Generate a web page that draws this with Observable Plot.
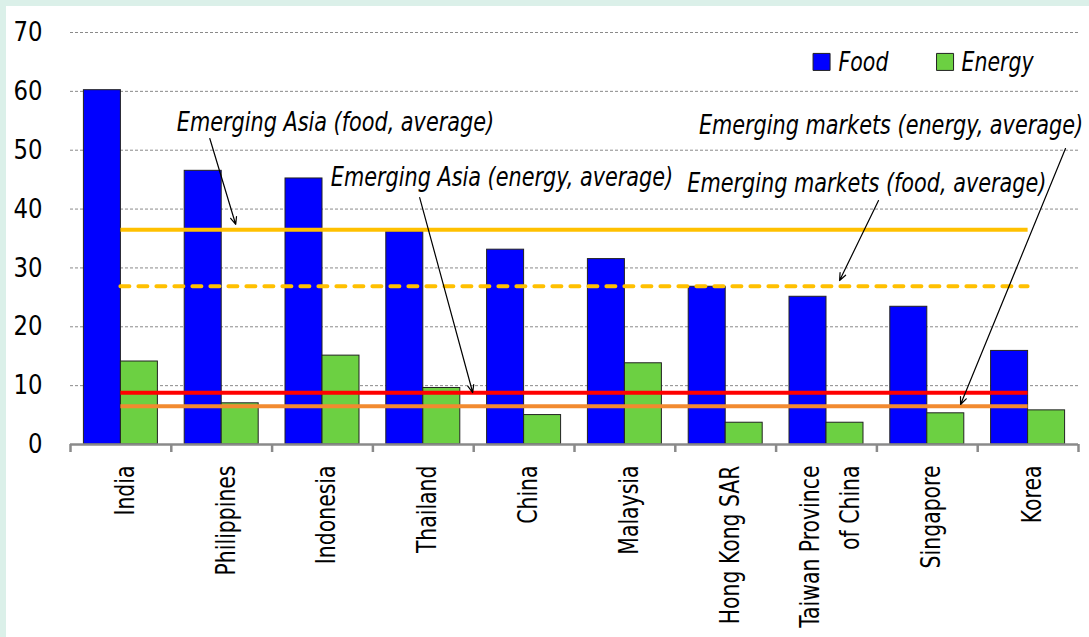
<!DOCTYPE html>
<html>
<head>
<meta charset="utf-8">
<script src="https://cdn.jsdelivr.net/npm/d3@7"></script>
<script src="https://cdn.jsdelivr.net/npm/@observablehq/plot@0.6"></script>
<style>
html, body { margin: 0; padding: 0; background: #dbf0e9; width: 1089px; height: 637px; overflow: hidden; }
#panel { position: absolute; left: 6px; top: 6px; width: 1083px; height: 631px; background: #ffffff; overflow: hidden; }
#panel svg { background: transparent; }
</style>
</head>
<body>
<div id="panel"></div>
<script>
// ---------- data ----------
const countries = ["India", "Philippines", "Indonesia", "Thailand", "China", "Malaysia",
  "Hong Kong SAR", "Taiwan Province\nof China", "Singapore", "Korea"];
const foodValues   = [60.2, 46.5, 45.2, 36.2, 33.1, 31.5, 26.8, 25.1, 23.4, 15.9];
const energyValues = [14.1, 7.0, 15.1, 9.6, 5.0, 13.8, 3.7, 3.7, 5.3, 5.8];
const seriesNames  = ["Food", "Energy"];
const yTicks = [0, 10, 20, 30, 40, 50, 60, 70];

const averageNames  = ["Emerging Asia (food, average)", "Emerging markets (food, average)",
  "Emerging Asia (energy, average)", "Emerging markets (energy, average)"];
const averageValues = [36.5, 26.9, 8.8, 6.5];

// annotation label anchors and arrows (x in category-index units, y in data units)
const labelX  = [1.054, 6.119, 2.582, 6.234];
const labelY  = [54.7, 44.3, 45.36, 54.2];
const arrowX1 = [1.382, 8.016, 3.464, 9.871];
const arrowY1 = [51.99, 41.45, 41.96, 50.29];
const arrowX2 = [1.639, 7.630, 3.990, 8.830];
const arrowY2 = [37.38, 27.86, 8.83, 6.80];

// legend anchors
const legendSwatchX = [7.451, 8.676];
const legendTextX   = [7.62, 8.84];
const legendY = 65.0;

// ---------- styles ----------
const seriesColors = {Food: "#0000ff", Energy: "#6cd042"};
const averageColors = ["#ffc000", "#ffc000", "#ff0000", "#f28a30"];
const averageDash = [null, "9,9", null, null];

// ---------- font selection ----------
const ctx = document.createElement("canvas").getContext("2d");
function measure(str, family, size = 100, style = "normal") { ctx.font = `${style} ${size}px ${family}`; return ctx.measureText(str).width; }
function available(f) {
  const s = "Philippines Emerging 0123456789";
  return measure(s, `"${f}", monospace`) !== measure(s, "monospace") &&
         measure(s, `"${f}", serif`) !== measure(s, "serif");
}
const candidates = ["Liberation Sans Narrow", "Arial Narrow", "DejaVu Sans Condensed", "Roboto Condensed", "Liberation Sans"];
const FONT = candidates.find(available) || "sans-serif";
const FF = `"${FONT}", sans-serif`;

// sizes chosen for glyph height; horizontal compression to match the narrow original face
const labelSize = 27, tickLabelSize = 27, annSize = 27, legendSize = 27;
const labelSqueeze  = Math.min(1, 110 / measure("Philippines", FF, labelSize));
const tickSqueeze   = Math.min(1, 29 / measure("70", FF, tickLabelSize));
const annSqueeze    = Math.min(1, (380 / measure("Emerging markets (energy, average)", FF, annSize, "italic") +
                                   321 / measure("Emerging Asia (food, average)", FF, annSize, "italic")) / 2);
const legendSqueeze = Math.min(1, 72 / measure("Energy", FF, legendSize, "italic"));

// ---------- build tables ----------
const groupWidth = 0.734;
const bars = [];
countries.forEach((c, i) => {
  [foodValues[i], energyValues[i]].forEach((v, k) => {
    bars.push({country: c, index: i, series: seriesNames[k], k, value: v});
  });
});
const averages = averageNames.map((name, i) => ({name, value: averageValues[i], color: averageColors[i], dash: averageDash[i]}));
const annotations = averageNames.map((name, i) => ({
  name, lx: labelX[i], ly: labelY[i], x1: arrowX1[i], y1: arrowY1[i], x2: arrowX2[i], y2: arrowY2[i]
}));
const legend = seriesNames.map((s, i) => ({series: s, sx: legendSwatchX[i], tx: legendTextX[i]}));

const lineMarks = averages.map(a =>
  Plot.ruleY([a], {y: "value", x1: 0.5, x2: countries.length - 0.5, stroke: a.color, strokeWidth: 4,
    strokeDasharray: a.dash || undefined, strokeLinecap: a.dash ? "round" : "butt"})
);

const chart = Plot.plot({
  width: 1083,
  height: 631,
  marginLeft: 64,
  marginRight: 11,
  marginTop: 26,
  marginBottom: 193,
  style: {fontFamily: FF, color: "#000", background: "transparent"},
  x: {type: "linear", domain: [0, countries.length]},
  y: {domain: [0, 70]},
  marks: [
    Plot.gridY(yTicks.filter(d => d > 0), {stroke: "#8a8a8a", strokeOpacity: 1, strokeWidth: 1, strokeDasharray: "3,2"}),
    Plot.rectY(bars, {
      x1: d => d.index + (1 - groupWidth) / 2 + d.k * groupWidth / 2,
      x2: d => d.index + (1 - groupWidth) / 2 + (d.k + 1) * groupWidth / 2,
      y1: 0, y2: "value",
      fill: d => seriesColors[d.series], stroke: "#222", strokeWidth: 1
    }),
    ...lineMarks,
    Plot.ruleY([0], {stroke: "#8a8a8a", strokeWidth: 2.5}),
    Plot.axisX(d3.range(0, countries.length + 1), {tickSize: 8, tickFormat: () => "", stroke: "#8a8a8a", strokeWidth: 2.5}),
    Plot.axisY(yTicks, {tickSize: 0, tickPadding: 28, fontSize: tickLabelSize, fill: "#000", className: "sq-tick"}),
    Plot.text(countries, {x: (d, i) => i + 0.5, y: 0, text: d => d, rotate: -90, textAnchor: "end", lineAnchor: "middle",
      dy: 21, fontSize: labelSize, lineHeight: 40 / labelSize, fill: "#000", className: "sq-label"}),
    Plot.arrow(annotations, {x1: "x1", y1: "y1", x2: "x2", y2: "y2", stroke: "#000", strokeWidth: 1.2, headLength: 10, headAngle: 45}),
    Plot.text(annotations, {x: "lx", y: "ly", text: "name", textAnchor: "start", lineAnchor: "middle",
      fontSize: annSize, fontStyle: "italic", fill: "#000", className: "sq-ann"}),
    Plot.dot(legend, {x: "sx", y: legendY, symbol: "square", r: 9.6, fill: d => seriesColors[d.series], stroke: "#222", strokeWidth: 1}),
    Plot.text(legend, {x: "tx", y: legendY, text: "series", textAnchor: "start", lineAnchor: "middle",
      fontSize: legendSize, fontStyle: "italic", fill: "#000", className: "sq-legend"})
  ]
});
document.getElementById("panel").appendChild(chart);

// horizontally condense text (along its reading direction) to mimic the original narrow typeface
function squeeze(nodes, f) {
  nodes.forEach(t => {
    const tr = t.getAttribute("transform");
    if (tr) {
      t.setAttribute("transform", `${tr} scale(${f},1)`);
    } else {
      const x = +t.getAttribute("x") || 0, y = +t.getAttribute("y") || 0;
      t.setAttribute("x", 0); t.setAttribute("y", 0);
      t.querySelectorAll("tspan[x]").forEach(s => s.setAttribute("x", 0));
      t.setAttribute("transform", `translate(${x},${y}) scale(${f},1)`);
    }
  });
}
const q = sel => Array.from(chart.querySelectorAll(sel));
squeeze(q(".sq-label text"), labelSqueeze);
squeeze(q(".sq-ann text"), annSqueeze);
squeeze(q(".sq-legend text"), legendSqueeze);
let tickTexts = q(".sq-tick text");
if (!tickTexts.length) tickTexts = q('g[aria-label="y-axis tick label"] text');
squeeze(tickTexts, tickSqueeze);
</script>
</body>
</html>
